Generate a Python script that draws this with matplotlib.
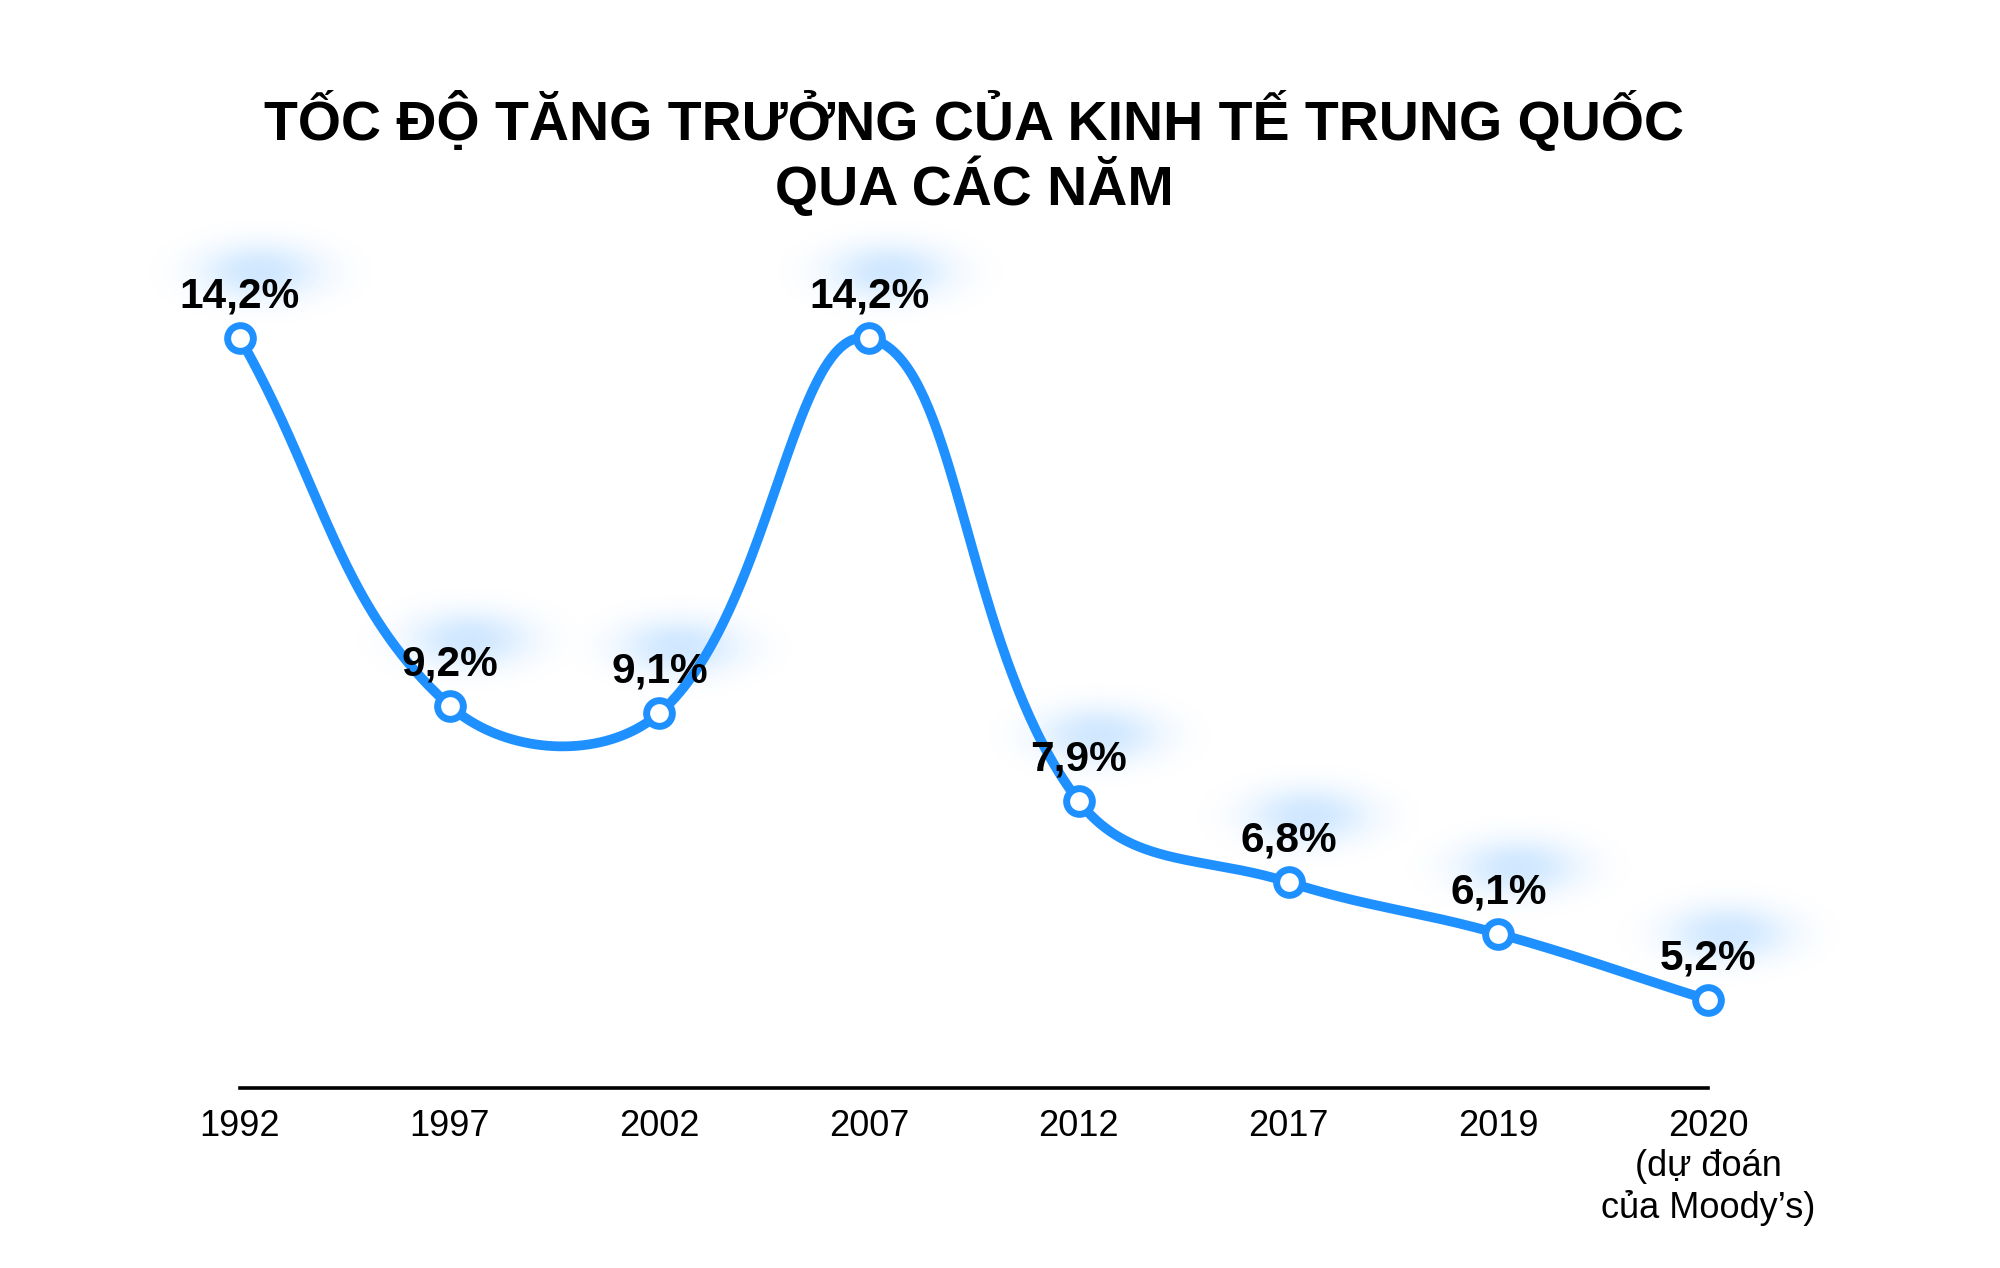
import numpy as np
import matplotlib
matplotlib.use("Agg")
import matplotlib.pyplot as plt

years = ["1992", "1997", "2002", "2007", "2012", "2017", "2019", "2020\n(dự đoán\ncủa Moody’s)"]
values = [14.2, 9.2, 9.1, 14.2, 7.9, 6.8, 6.1, 5.2]
value_labels = ["14,2%", "9,2%", "9,1%", "14,2%", "7,9%", "6,8%", "6,1%", "5,2%"]
title_lines = ["TỐC ĐỘ TĂNG TRƯỞNG CỦA KINH TẾ TRUNG QUỐC", "QUA CÁC NĂM"]

LINE = "#1E90FF"
TENSION = 0.4
plt.rcParams['font.family'] = ['Liberation Sans', 'DejaVu Sans']

W, H = 2000, 1268
fig = plt.figure(figsize=(W / 100, H / 100), dpi=100)
axis_px = 1088  # from top
ax = fig.add_axes([0, (H - axis_px) / H, 1, axis_px / H])
n = len(values)
x = np.arange(n)
x0px, x7px = 240, 1708
px_per_x = (x7px - x0px) / (n - 1)
ax.set_xlim(-x0px / px_per_x, (n - 1) + (W - x7px) / px_per_x)
ymin = 4.0
px_per_y = 73.5
ax.set_ylim(ymin, ymin + axis_px / px_per_y)

# Tension spline (distance-weighted control points) computed in display space
y = np.array(values, dtype=float)
P = ax.transData.transform(np.column_stack([x, y]))
prev_c, next_c = [], []
for i in range(n):
    pp = P[i - 1] if i > 0 else P[i]
    nx = P[i + 1] if i < n - 1 else P[i]
    d01 = np.hypot(*(P[i] - pp))
    d12 = np.hypot(*(nx - P[i]))
    tot = d01 + d12
    s01 = d01 / tot if tot else 0
    s12 = d12 / tot if tot else 0
    prev_c.append(P[i] - TENSION * s01 * (nx - pp))
    next_c.append(P[i] + TENSION * s12 * (nx - pp))
pts = []
t = np.linspace(0, 1, 80)[:, None]
for i in range(n - 1):
    b0, b1, b2, b3 = P[i], next_c[i], prev_c[i + 1], P[i + 1]
    seg = ((1 - t) ** 3) * b0 + 3 * ((1 - t) ** 2) * t * b1 + 3 * (1 - t) * t ** 2 * b2 + t ** 3 * b3
    pts.append(seg)
pts = np.vstack(pts)
curve = ax.transData.inverted().transform(pts)
ax.plot(curve[:, 0], curve[:, 1], color=LINE, lw=7, solid_capstyle='round', zorder=3)
ax.plot(x, y, 'o', ms=18.5, mfc='white', mec=LINE, mew=5, zorder=4)

# glow behind labels
gh, gw = axis_px, W
yy, xx = np.mgrid[0:gh, 0:gw]
alpha = np.zeros((gh, gw))
for px, py in P:
    cx = px + 20
    cy_top = H - py - 67  # measured from top of figure
    d = np.sqrt(((xx - cx) / 60.0) ** 2 + ((yy - cy_top) / 28.0) ** 2)
    a = 0.21 * np.exp(-d ** 2.2)
    alpha = np.maximum(alpha, a)
rgba = np.zeros((gh, gw, 4))
rgba[..., 0] = 0x1E / 255
rgba[..., 1] = 0x90 / 255
rgba[..., 2] = 1.0
rgba[..., 3] = alpha
xl, yl = ax.get_xlim(), ax.get_ylim()
ax.imshow(rgba, extent=(xl[0], xl[1], yl[0], yl[1]), aspect='auto', zorder=1,
          interpolation='bilinear', origin='upper')
ax.set_xlim(xl)
ax.set_ylim(yl)

for xi, yi, lab in zip(x, y, value_labels):
    ax.annotate(lab, (xi, yi), xytext=(0, 22), textcoords='offset points',
                ha='center', va='baseline', fontsize=30.5, fontweight='bold',
                color='black', zorder=6)

for s in ['top', 'left', 'right']:
    ax.spines[s].set_visible(False)
ax.spines['bottom'].set_bounds(0, n - 1)
ax.spines['bottom'].set_linewidth(2.6)
ax.spines['bottom'].set_color('black')
ax.set_yticks([])
ax.set_xticks(x)
ax.set_xticklabels(years, fontsize=26, linespacing=1.2)
ax.tick_params(axis='x', length=0, pad=15)
ax.patch.set_alpha(0)

fig.text(0.487, 1 - 140 / H, title_lines[0], ha='center', va='baseline',
         fontsize=40, fontweight='bold')
fig.text(0.487, 1 - 205 / H, title_lines[1], ha='center', va='baseline',
         fontsize=40, fontweight='bold')

fig.savefig("out.png", dpi=100, facecolor='white')
